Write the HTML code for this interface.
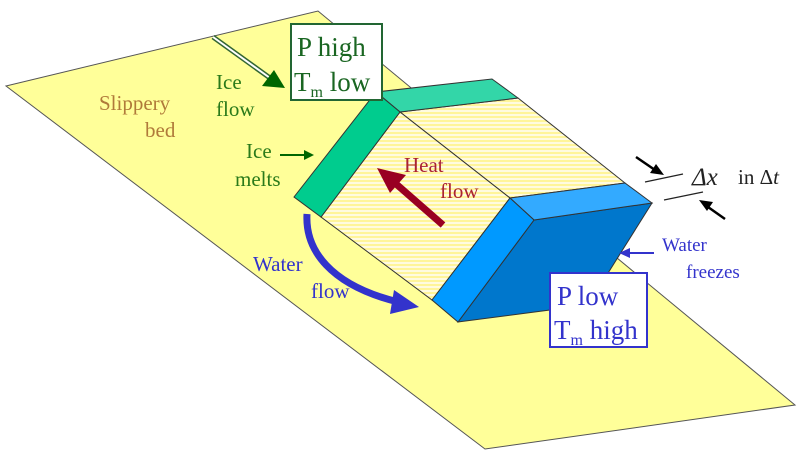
<!DOCTYPE html>
<html><head><meta charset="utf-8"><style>
html,body{margin:0;padding:0;background:#fff;}
svg{display:block;font-family:"Liberation Serif",serif;}
</style></head><body>
<svg width="800" height="458" viewBox="0 0 800 458" xmlns="http://www.w3.org/2000/svg">
<defs>
<pattern id="h" width="6" height="4" patternUnits="userSpaceOnUse">
<rect width="6" height="4" fill="#fffbe0"/><rect width="6" height="2" fill="#fff59a"/>
</pattern>
</defs>
<polygon points="6,86 318,11 795,405 485,449" fill="#ffff99" stroke="#555" stroke-width="1"/>
<polygon points="400,112 518,98 625,183 510,198" fill="url(#h)" stroke="#333" stroke-width="1"/>
<polygon points="400,112 510,198 432,300 321,217" fill="url(#h)" stroke="#333" stroke-width="1"/>
<polygon points="376,92 492,79 518,98 400,112" fill="#33d6a8" stroke="#333" stroke-width="1"/>
<polygon points="376,92 400,112 321,217 294,197" fill="#00cc8e" stroke="#333" stroke-width="1"/>
<polygon points="534,220 652,203 588,305 458,322" fill="#0077cc" stroke="#333" stroke-width="1"/>
<polygon points="510,198 625,183 652,203 534,220" fill="#33aaff" stroke="#333" stroke-width="1"/>
<polygon points="510,198 534,220 458,322 432,300" fill="#0099ff" stroke="#333" stroke-width="1"/>
<line x1="213" y1="37" x2="270" y2="78" stroke="#336633" stroke-width="5"/>
<line x1="213" y1="37" x2="270" y2="78" stroke="#fff" stroke-width="2"/>
<polygon points="285,88 262,86 274,70" fill="#006600"/>
<line x1="280" y1="155" x2="306" y2="155" stroke="#006600" stroke-width="2"/>
<polygon points="314,155 304,150 304,160" fill="#006600"/>
<line x1="443" y1="225" x2="395" y2="183" stroke="#990022" stroke-width="7"/>
<polygon points="377,168 406,175 390,193" fill="#990022"/>
<path d="M307,214 C305,250 330,285 398,302" fill="none" stroke="#3333cc" stroke-width="7"/>
<polygon points="419,307 394,290 390,314" fill="#3333cc"/>
<line x1="628" y1="253" x2="654" y2="253" stroke="#3333cc" stroke-width="2"/>
<polygon points="619,253 630,248 630,258" fill="#3333cc"/>
<line x1="645" y1="182" x2="683" y2="174" stroke="#222" stroke-width="1.2"/>
<line x1="664" y1="200" x2="703" y2="192" stroke="#222" stroke-width="1.2"/>
<line x1="636" y1="157" x2="655" y2="170" stroke="#000" stroke-width="2.5"/>
<polygon points="664,175 650,173 656,164" fill="#000"/>
<line x1="725" y1="219" x2="708" y2="207" stroke="#000" stroke-width="2.5"/>
<polygon points="699,200 713,202 707,211" fill="#000"/>
<text x="692" y="185" font-size="25" font-style="italic" fill="#222">Δx</text>
<text x="738" y="184" font-size="21" fill="#222">in Δ<tspan font-style="italic">t</tspan></text>
<rect x="291" y="24" width="91" height="76" fill="#fff" stroke="#226633" stroke-width="2"/>
<text x="297" y="56" font-size="27" fill="#1a6622">P high</text>
<text x="294" y="91" font-size="27" fill="#1a6622">T<tspan font-size="16" dy="6">m</tspan><tspan dy="-6"> low</tspan></text>
<rect x="550" y="273" width="97" height="74" fill="#fff" stroke="#3333cc" stroke-width="2"/>
<text x="557" y="305" font-size="27" fill="#3333cc">P low</text>
<text x="554" y="339" font-size="27" fill="#3333cc">T<tspan font-size="16" dy="6">m</tspan><tspan dy="-6"> high</tspan></text>
<text x="99" y="110" font-size="21" fill="#b07a3a">Slippery</text>
<text x="145" y="137" font-size="21" fill="#b07a3a">bed</text>
<text x="216" y="89" font-size="21" fill="#2a7a1a">Ice</text>
<text x="216" y="116" font-size="21" fill="#2a7a1a">flow</text>
<text x="246" y="158" font-size="21" fill="#2a7a1a">Ice</text>
<text x="235" y="186" font-size="21" fill="#2a7a1a">melts</text>
<text x="404" y="172" font-size="21" fill="#aa2233">Heat</text>
<text x="440" y="198" font-size="21" fill="#aa2233">flow</text>
<text x="253" y="271" font-size="21" fill="#3333cc">Water</text>
<text x="311" y="298" font-size="21" fill="#3333cc">flow</text>
<text x="662" y="251" font-size="19" fill="#3333cc">Water</text>
<text x="686" y="278" font-size="19" fill="#3333cc">freezes</text>
</svg>
</body></html>
